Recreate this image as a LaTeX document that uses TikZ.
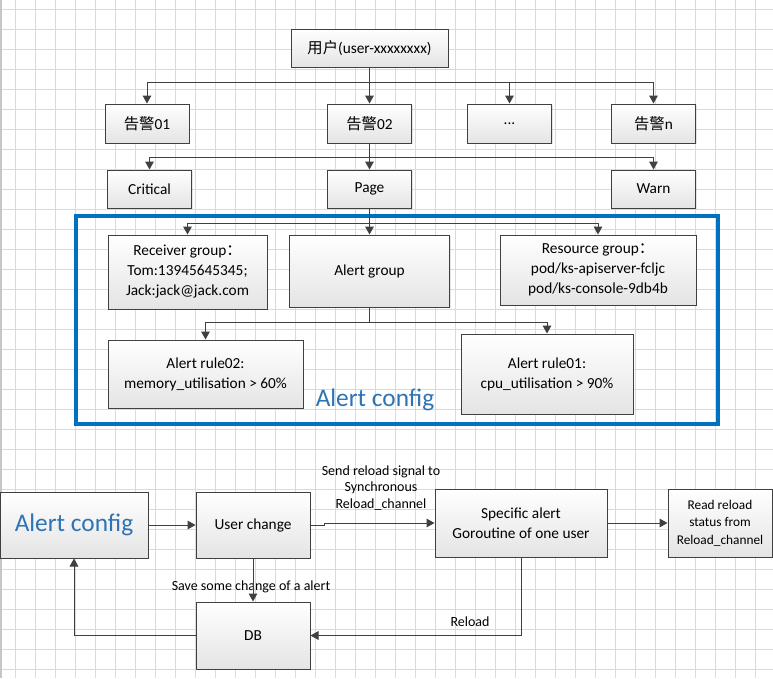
\documentclass[tikz,border=0pt]{standalone}
\usepackage{fontspec}
\setmainfont{Carlito}
\newfontfamily\cjk{Noto Sans CJK SC}
\usepackage{tikz}
\usetikzlibrary{positioning,calc,arrows.meta,shadows}

\definecolor{gridgray}{RGB}{218,218,218}
\definecolor{boxline}{RGB}{64,64,64}
\definecolor{boxshade}{RGB}{228,228,228}
\definecolor{cfgblue}{RGB}{0,112,192}
\definecolor{cfgtext}{RGB}{46,116,181}

\tikzset{
  gridline/.style={draw=gridgray, line width=0.7pt},
  box/.style={draw=boxline, line width=0.75pt, top color=white, bottom color=boxshade,
    align=center, inner sep=2pt, font=\fontsize{11.5}{15}\selectfont,
    drop shadow={shadow xshift=1pt, shadow yshift=-1pt, opacity=0.2}},
  arr/.style={draw=boxline, line width=0.75pt, -{Triangle[width=6.5pt,length=6pt]}},
  note/.style={align=center, inner sep=0pt, font=\fontsize{10.5}{12.5}\selectfont},
  bigtext/.style={text=cfgtext, inner sep=0pt, font=\fontsize{19}{22}\selectfont},
}

\begin{document}
\begin{tikzpicture}[x=0.75pt, y=-0.75pt]
  \useasboundingbox[fill=white] (0,0) rectangle (773,678);

  % background grid
  \foreach \gx in {15,35,...,775} \draw[gridline] (\gx,0) -- (\gx,678);
  \foreach \gy in {9,29,...,669} \draw[gridline] (0,\gy) -- (773,\gy);
  \draw[draw=gray!45, line width=1.5pt] (0.75,0) -- (0.75,678);

  % alert config frame
  \draw[draw=cfgblue, line width=2.3pt] (76,216) rectangle (718,424);
  \node[bigtext] (cfglabel) at (375,400) {Alert config};

  % user and alerts
  \node[box, minimum width=117.75pt, minimum height=28.5pt] (user) at (369.5,48) {{\cjk 用户}(user-xxxxxxxx)};
  \node[box, minimum width=63pt, minimum height=29.25pt] (a01) at (147,123.5) {{\cjk 告警}01};
  \node[box, minimum width=63pt, minimum height=29.25pt] (a02) at (369.5,123.5) {{\cjk 告警}02};
  \node[box, minimum width=63pt, minimum height=29.25pt] (adots) at (509.5,123.5) {...};
  \node[box, minimum width=63pt, minimum height=29.25pt] (an) at (653.5,123.5) {{\cjk 告警}n};

  % levels
  \node[box, minimum width=63pt, minimum height=28.5pt] (crit) at (149.5,189) {Critical};
  \node[box, minimum width=63pt, minimum height=28.5pt] (page) at (369.5,189) {Page};
  \node[box, minimum width=63pt, minimum height=28.5pt] (warn) at (653.5,189) {Warn};

  % inside the frame
  \node[box, minimum width=119.25pt, minimum height=55.5pt] (recv) at (187.5,272)
    {Receiver group{\cjk ：}\\Tom:13945645345;\\Jack:jack@jack.com};
  \node[box, minimum width=120pt, minimum height=54pt] (agrp) at (369.5,271) {Alert group};
  \node[box, minimum width=147pt, minimum height=52.5pt] (res) at (598,270)
    {Resource group{\cjk ：}\\pod/ks-apiserver-fcljc\\pod/ks-console-9db4b};
  \node[box, minimum width=146.25pt, minimum height=51pt] (rule2) at (205.5,374)
    {Alert rule02:\\memory\_utilisation > 60\%};
  \node[box, minimum width=129pt, minimum height=60pt] (rule1) at (547,374)
    {Alert rule01:\\cpu\_utilisation > 90\%};

  % reload flow
  \node[box, minimum width=111pt, minimum height=49.5pt] (ac) at (74,525) {\textcolor{cfgtext}{\fontsize{19}{22}\selectfont Alert config}};
  \node[box, minimum width=85.5pt, minimum height=49.5pt] (uc) at (253,525) {User change};
  \node[box, minimum width=129pt, minimum height=51pt] (sa) at (521,523) {Specific alert\\Goroutine of one user};
  \node[box, minimum width=78pt, minimum height=51pt, font=\fontsize{10}{13}\selectfont] (rr) at (720,523)
    {Read reload\\status from\\Reload\_channel};
  \node[box, minimum width=85.5pt, minimum height=50.25pt] (db) at (253,635.5) {DB};

  \node[note] (sendlbl) at (381,488) {Send reload signal to\\Synchronous\\Reload\_channel};
  \node[note] (savelbl) at (251,587) {Save some change of a alert};
  \node[note] (reloadlbl) at (470,622) {Reload};

  % tree connectors
  \draw[arr] (user) -- (a02);
  \draw[arr] (user.south) -- ++(0,15) -| (a01.north);
  \draw[arr] (user.south) -- ++(0,15) -| (adots.north);
  \draw[arr] (user.south) -- ++(0,15) -| (an.north);
  \draw[arr] (a02) -- (page);
  \draw[arr] (a02.south) -- ++(0,14) -| (crit.north);
  \draw[arr] (a02.south) -- ++(0,14) -| (warn.north);
  \draw[arr] (page) -- (agrp);
  \draw[arr] (page.south) -- ++(0,15) -| (recv.north);
  \draw[arr] (page.south) -- ++(0,15) -| (res.north);
  \draw[arr] (agrp.south) -- ++(0,15) -| (rule2.north);
  \draw[arr] (agrp.south) -- ++(0,15) -| (rule1.north);

  % flow connectors
  \draw[arr] (ac) -- (uc);
  \draw[arr] (uc.east) -- ++(14,0) |- (sa.west);
  \draw[arr] (sa) -- (rr);
  \draw[arr] (uc) -- (db);
  \draw[arr] (db.west) -| (ac.south);
  \draw[arr] (sa.south) |- (db.east);
\end{tikzpicture}
\end{document}
